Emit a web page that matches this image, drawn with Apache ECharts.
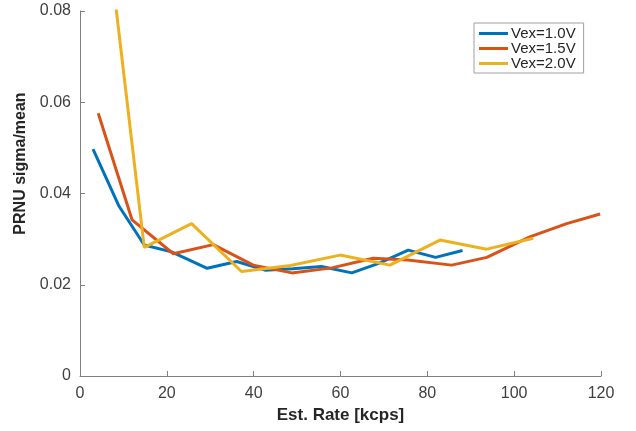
<!DOCTYPE html>
<html>
<head>
<meta charset="utf-8">
<script src="https://cdn.jsdelivr.net/npm/echarts@6/dist/echarts.min.js"></script>
<style>html,body{margin:0;padding:0;background:#fff;}#c{width:636px;height:431px;}</style>
</head>
<body>
<div id="c"></div>
<script>
const seriesNames = ['Vex=1.0V', 'Vex=1.5V', 'Vex=2.0V'];
const blueX = [3.0, 9.0, 14.8, 21.1, 29.3, 36.1, 42.6, 49.0, 55.6, 62.6, 68.8, 75.6, 81.9, 88.1];
const blueY = [0.0497, 0.0372, 0.0287, 0.0272, 0.0236, 0.0251, 0.0232, 0.0235, 0.0240, 0.0226, 0.0247, 0.0276, 0.0260, 0.0275];
const orangeX = [4.2, 12.0, 21.5, 30.7, 39.9, 48.8, 58.0, 67.5, 75.5, 85.6, 93.7, 103.6, 112.1, 119.8];
const orangeY = [0.0576, 0.0342, 0.0268, 0.0288, 0.0243, 0.0226, 0.0237, 0.0258, 0.0254, 0.0243, 0.0260, 0.0305, 0.0334, 0.0355];
const yellowX = [3.8, 14.8, 25.7, 37.2, 48.5, 59.9, 71.4, 82.9, 93.7, 104.4];
const yellowY = [0.117, 0.0282, 0.0334, 0.0229, 0.0242, 0.0265, 0.0243, 0.0298, 0.0278, 0.0302];
const xTicks = [0, 20, 40, 60, 80, 100, 120];
const yTicks = [0, 0.02, 0.04, 0.06, 0.08];

const colors = ['#0072BD', '#D95319', '#EDB120'];
const pair = (xs, ys) => xs.map((x, i) => [x, ys[i]]);
const allX = [blueX, orangeX, yellowX];
const allY = [blueY, orangeY, yellowY];

const chart = echarts.init(document.getElementById('c'), null, {renderer: 'canvas'});
const font = 'Arial, "Liberation Sans", Helvetica, sans-serif';
chart.setOption({
  animation: false,
  backgroundColor: '#ffffff',
  grid: {left: 80, right: 35, top: 11, bottom: 55, containLabel: false},
  legend: {
    orient: 'vertical',
    left: 474, top: 23,
    padding: [3, 8, 2, 5],
    itemGap: 0,
    itemWidth: 29, itemHeight: 3,
    icon: 'rect',
    borderColor: '#a0a0a0', borderWidth: 1,
    backgroundColor: '#fff',
    textStyle: {fontFamily: font, fontSize: 15, color: '#262626', lineHeight: 13, padding: [0, 0, 0, -2]},
    data: seriesNames
  },
  xAxis: {
    type: 'value',
    min: xTicks[0], max: xTicks[xTicks.length - 1], interval: 20,
    name: 'Est. Rate [kcps]', nameLocation: 'middle', nameGap: 30,
    nameTextStyle: {fontFamily: font, fontSize: 17, fontWeight: 'bold', color: '#262626'},
    axisLine: {show: true, lineStyle: {color: '#808080', width: 1}},
    axisTick: {show: true, inside: true, length: 5, lineStyle: {color: '#808080'}},
    axisLabel: {fontFamily: font, fontSize: 16, color: '#404040', margin: 10},
    splitLine: {show: false}
  },
  yAxis: {
    type: 'value',
    min: yTicks[0], max: yTicks[yTicks.length - 1], interval: 0.02,
    name: 'PRNU sigma/mean', nameLocation: 'middle', nameGap: 51,
    nameTextStyle: {fontFamily: font, fontSize: 16, fontWeight: 'bold', color: '#262626', padding: [0, 0, 0, 60]},
    axisLine: {show: true, lineStyle: {color: '#808080', width: 1}},
    axisTick: {show: true, inside: true, length: 5, lineStyle: {color: '#808080'}},
    axisLabel: {fontFamily: font, fontSize: 16, color: '#404040', margin: 9,
      formatter: v => v === 0 ? '0' : v.toFixed(2)},
    splitLine: {show: false}
  },
  series: seriesNames.map((n, i) => ({
    name: n,
    type: 'line',
    data: pair(allX[i], allY[i]),
    symbol: 'none',
    clip: true,
    color: colors[i],
    lineStyle: {width: 3, color: colors[i]}
  }))
});
</script>
</body>
</html>
